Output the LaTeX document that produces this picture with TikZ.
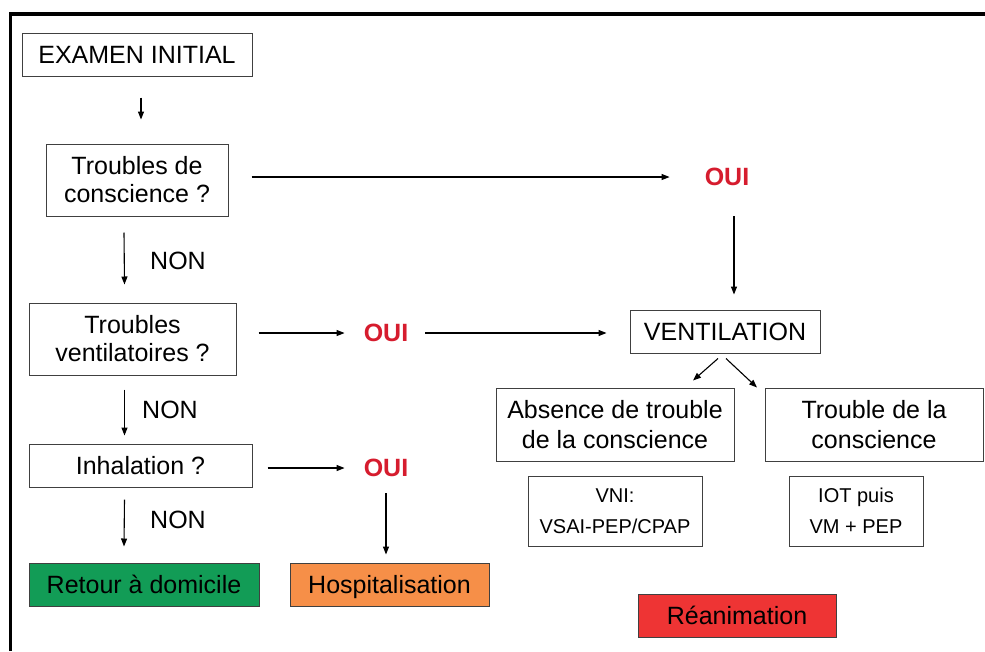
\documentclass[tikz,border=0pt]{standalone}
\usepackage{fontspec}
\setmainfont{Liberation Sans}
\usetikzlibrary{arrows.meta}
\definecolor{ouired}{RGB}{214,28,46}
\definecolor{retgreen}{RGB}{18,156,86}
\definecolor{hospor}{RGB}{246,143,72}
\definecolor{reared}{RGB}{238,52,52}
\tikzset{
  box/.style={draw=black!75, line width=1pt, inner sep=0pt, align=center,
    font=\fontsize{25}{28}\selectfont},
  linebox/.style={box, text height=18pt, text depth=0pt},
  widebox/.style={box, font=\fontsize{25}{30}\selectfont},
  smallbox/.style={box, font=\fontsize{20}{31}\selectfont},
  oui/.style={inner sep=0pt, text=ouired, font=\fontsize{25}{28}\selectfont\bfseries},
  non/.style={inner sep=0pt, font=\fontsize{25}{28}\selectfont},
  arr/.style={-{Triangle[length=8pt,width=6pt]}, line width=1.1pt}
}
\begin{document}
\begin{tikzpicture}[x=1pt,y=-1pt]
  \useasboundingbox (0,0) rectangle (985,651);
  \draw[line width=3.5pt] (10.5,651) -- (10.5,14) -- (985,14);
  \node[linebox, minimum width=230, minimum height=43] (ei) at (137,54.5) {EXAMEN INITIAL};
  \node[box, minimum width=182, minimum height=72] (tc) at (137,180) {Troubles de\\conscience ?};
  \node[box, minimum width=207, minimum height=72] (tv) at (132.5,339) {Troubles\\ventilatoires ?};
  \node[linebox, minimum width=223, minimum height=43] (inh) at (140.5,465.5) {Inhalation ?};
  \node[linebox, fill=retgreen, minimum width=230, minimum height=43] (ret) at (144,584.5) {Retour à domicile};
  \node[linebox, fill=hospor, minimum width=199, minimum height=43] (hosp) at (389.5,584.5) {Hospitalisation};
  \node[non] (non1) at (178,261) {NON};
  \node[non] (non2) at (170,410) {NON};
  \node[non] (non3) at (178,520) {NON};
  \node[oui] (oui1) at (727,177) {OUI};
  \node[oui] (oui2) at (386,333) {OUI};
  \node[oui] (oui3) at (386,468) {OUI};
  \node[linebox, minimum width=190, minimum height=43] (vent) at (725,331.5) {VENTILATION};
  \node[widebox, minimum width=238, minimum height=73] (abs) at (615,424.5) {Absence de trouble\\de la conscience};
  \node[widebox, minimum width=218, minimum height=73] (tdc) at (874,424.5) {Trouble de la\\conscience};
  \node[smallbox, minimum width=174, minimum height=70] (vni) at (615,511) {VNI:\\VSAI-PEP/CPAP};
  \node[smallbox, minimum width=134, minimum height=70] (iot) at (856,511) {IOT puis\\VM + PEP};
  \node[linebox, fill=reared, minimum width=198, minimum height=43] (rea) at (737,615.5) {Réanimation};
  \begin{scope}[arr]
    \draw ([xshift=4,yshift=-21]ei.south) to ([xshift=4,yshift=24]tc.north);
    \draw ([xshift=-13,yshift=-16]tc.south) to ([xshift=-8,yshift=18]tv.north);
    \draw ([xshift=-8,yshift=-14]tv.south) to ([xshift=-16,yshift=8]inh.north);
    \draw ([xshift=-16,yshift=-12]inh.south) to ([xshift=-20,yshift=16]ret.north);
    \draw ([xshift=23]oui1.west -| tc.east) to ([xshift=-35]oui1.west);
    \draw ([xshift=7,yshift=-30]oui1.south) to ([xshift=9,yshift=15]vent.north);
    \draw ([xshift=22]oui2.west -| tv.east) to ([xshift=-19]oui2.west);
    \draw ([xshift=17]oui2.east) to ([xshift=-23]oui2.east -| vent.west);
    \draw ([xshift=15]oui3.west -| inh.east) to ([xshift=-19]oui3.west);
    \draw ([yshift=-16]oui3.south) to ([xshift=-3.5,yshift=8]hosp.north);
    \draw ([xshift=-7,yshift=-5]vent.south) to ([xshift=78,yshift=7]abs.north);
    \draw ([xshift=1,yshift=-5]vent.south) to ([xshift=-117]tdc.north);
  \end{scope}
\end{tikzpicture}
\end{document}
